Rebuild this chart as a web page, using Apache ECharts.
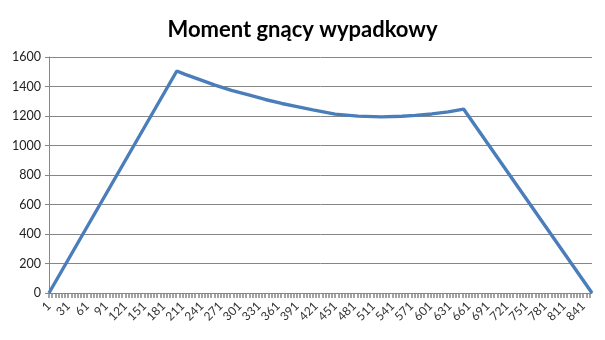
<!DOCTYPE html>
<html>
<head>
<meta charset="utf-8">
<script src="https://cdn.jsdelivr.net/npm/echarts@6/dist/echarts.min.js"></script>
<style>
html,body{margin:0;padding:0;background:#fff;}
#c{width:605px;height:340px;}
</style>
</head>
<body>
<div id="c"></div>
<script>
// Category count on the x axis (labels 1..N)
const categoryCount = 855;
// Read-off sample points: category number and moment value
const sampleCat = [1, 202, 215, 236, 262, 288, 315, 341, 367, 393, 416, 451, 487, 524, 556, 577, 603, 629, 653, 655, 855];
const sampleVal = [0, 1505, 1482, 1450, 1410, 1374, 1343, 1312, 1285, 1262, 1241, 1213, 1199, 1194, 1198, 1204, 1214, 1228, 1247, 1252, 0];
const yTicks = [0, 200, 400, 600, 800, 1000, 1200, 1400, 1600];
const titleText = 'Moment gnący wypadkowy';

const categories = [];
for (let i = 1; i <= categoryCount; i++) categories.push(String(i));
const seriesData = sampleCat.map((c, i) => [String(c), sampleVal[i]]);

const chart = echarts.init(document.getElementById('c'));
chart.setOption({
  animation: false,
  title: {
    text: titleText,
    left: 'center',
    top: 14,
    textStyle: { fontFamily: 'Lato', fontWeight: 'bold', fontSize: 22, color: '#000' }
  },
  grid: { left: 49, right: 13, top: 57, bottom: 47 },
  xAxis: {
    type: 'category',
    data: categories,
    boundaryGap: false,
    axisLine: { lineStyle: { color: '#868686', width: 1 } },
    axisTick: { interval: 4, length: 5, lineStyle: { color: '#868686', width: 1.5 } },
    axisLabel: { interval: 29, rotate: 45, fontFamily: 'Lato', fontSize: 12, color: '#333', margin: 11 },
    splitLine: { show: false }
  },
  yAxis: {
    type: 'value',
    min: yTicks[0],
    max: yTicks[yTicks.length - 1],
    interval: 200,
    axisLine: { show: true, lineStyle: { color: '#868686' } },
    axisTick: { show: true, length: 4, lineStyle: { color: '#868686' } },
    axisLabel: { fontFamily: 'Lato', fontSize: 12.5, color: '#222', margin: 8, formatter: v => String(v) },
    splitLine: { lineStyle: { color: '#868686', width: 1 } }
  },
  series: [{
    type: 'line',
    data: seriesData,
    showSymbol: false,
    lineStyle: { color: '#4a7ebb', width: 3.4 },
    itemStyle: { color: '#4a7ebb' }
  }]
});
</script>
</body>
</html>
